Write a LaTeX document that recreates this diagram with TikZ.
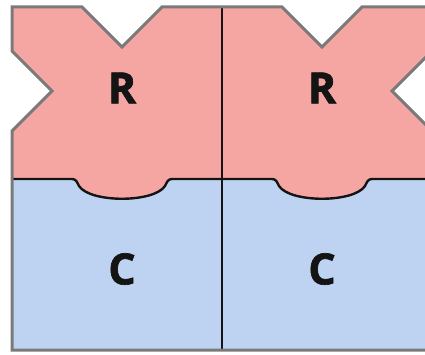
\documentclass[tikz,border=0pt]{standalone}
\usepackage{fontspec}
\setmainfont{Open Sans}[BoldFeatures={FakeBold=1.5}]
\definecolor{regpink}{RGB}{246,166,162}
\definecolor{catblue}{RGB}{189,211,241}
\definecolor{rimgray}{RGB}{122,122,122}
\definecolor{inkline}{RGB}{20,20,20}
\tikzset{
  subunit label/.style={inner sep=0pt, text=inkline,
    font=\fontsize{43}{43}\selectfont\bfseries},
  rim/.style={draw=rimgray, line width=3pt, line join=miter},
  seam/.style={draw=inkline, line width=2.4pt},
}
% lower edge of a regulatory subunit: a rounded lobe centred on #1
\newcommand{\lobeedge}[1]{%
  -- (#1-50,179) .. controls (#1-46,179) and (#1-45,182) .. (#1-43,186)
  .. controls (#1-32,203) and (#1+32,203) .. (#1+43,186)
  .. controls (#1+45,182) and (#1+46,179) .. (#1+50,179)}
\begin{document}
\begin{tikzpicture}[x=1pt,y=-1pt]
  \useasboundingbox (0,0) rectangle (425,355);
  \clip (0,0) rectangle (425,355);
  % catalytic subunits
  \fill[catblue] (12,179) rectangle (432,350);
  % regulatory subunits with their notches and lobes
  \fill[regpink] (432,179) -- (432,131) -- (392,91) -- (432,51) -- (432,7)
    -- (362,7) -- (322,47) -- (282,7) -- (162,7) -- (122,47) -- (82,7)
    -- (12,7) -- (12,51) -- (52,91) -- (12,131) -- (12,179)
    \lobeedge{122} \lobeedge{322} -- cycle;
  % boundary between R and C
  \draw[seam] (12,179) \lobeedge{122} \lobeedge{322} -- (432,179);
  % boundary between the two R-C halves
  \draw[seam] (222,7) -- (222,350);
  % outer outline
  \draw[rim] (12,350) -- (12,131) -- (52,91) -- (12,51) -- (12,7)
    -- (82,7) -- (122,47) -- (162,7) -- (282,7) -- (322,47) -- (362,7)
    -- (432,7) -- (432,51) -- (392,91) -- (432,131) -- (432,350) -- cycle;
  % labels
  \node[subunit label] (R1) at (122,88) {R};
  \node[subunit label] (R2) at (322,88) {R};
  \node[subunit label] (C1) at (122,269) {C};
  \node[subunit label] (C2) at (322,269) {C};
\end{tikzpicture}
\end{document}
